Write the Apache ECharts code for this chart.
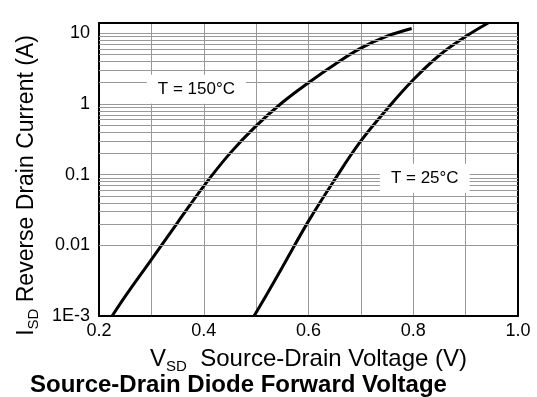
<!DOCTYPE html>
<html>
<head>
<meta charset="utf-8">
<script src="https://cdn.jsdelivr.net/npm/echarts@6/dist/echarts.min.js"></script>
<style>
  html, body { margin: 0; padding: 0; background: #fff; }
  #chart { width: 537px; height: 397px; }
</style>
</head>
<body>
<div id="chart"></div>
<script>
// 150°C curve
var volt150 = [0.225, 0.25, 0.3, 0.35, 0.4, 0.45, 0.5, 0.55, 0.6, 0.65, 0.7, 0.75, 0.797];
var curr150 = [0.001, 0.0019, 0.0063, 0.021, 0.069, 0.20, 0.49, 1.05, 2.0, 3.63, 6.17, 9.1, 11.7];
// 25°C curve
var volt25 = [0.496, 0.52, 0.55, 0.6, 0.65, 0.7, 0.75, 0.8, 0.85, 0.9, 0.943];
var curr25 = [0.001, 0.002, 0.0049, 0.022, 0.085, 0.30, 0.85, 2.2, 4.9, 9.0, 14];

var xTickLabels = ['0.2', '', '0.4', '', '0.6', '', '0.8', '', '1.0'];
var yTickLabels = ['1E-3', '0.01', '0.1', '1', '10'];

var labels = [
    {text: 'T = 150°C', coord: [0.386, 1.62]},
    {text: 'T = 25°C', coord: [0.822, 0.089]}
];

var font = 'Liberation Sans, Arial, sans-serif';
var gridColor = '#999';

// minor log grid lines 2..9 per decade
var minorLines = [];
for (var d = -3; d <= 1; d++) {
    for (var m = 2; m <= 9; m++) {
        var v = m * Math.pow(10, d);
        if (v < 14) {
            minorLines.push({yAxis: v});
        }
    }
}

function pairs(xs, ys) {
    return xs.map(function (x, i) {
        return [x, ys[i]];
    });
}

var chart = echarts.init(document.getElementById('chart'));
chart.setOption({
    animation: false,
    textStyle: {fontFamily: font},
    title: {
        text: 'Source-Drain Diode Forward Voltage',
        left: 30,
        top: 373,
        padding: 0,
        textStyle: {fontFamily: font, fontSize: 24, fontWeight: 'bold', color: '#000'}
    },
    grid: {left: 99, right: 19, top: 23, bottom: 81, containLabel: false},
    xAxis: [{
        type: 'value',
        min: 0.2,
        max: 1.0,
        interval: 0.1,
        name: '{m|V}{s|SD}{m|  Source-Drain Voltage (V)}',
        nameLocation: 'middle',
        nameGap: 20,
        nameTextStyle: {
            rich: {
                m: {fontFamily: font, fontSize: 24, color: '#000', lineHeight: 26},
                s: {fontFamily: font, fontSize: 15, color: '#000', padding: [14, 0, 0, 0], lineHeight: 16}
            }
        },
        axisLine: {lineStyle: {color: '#000', width: 2}},
        axisTick: {show: false},
        axisLabel: {
            fontFamily: font, fontSize: 18, color: '#000', margin: 6,
            formatter: function (val) {
                var i = Math.round((val - 0.2) * 10);
                return xTickLabels[i] || '';
            }
        },
        splitLine: {show: true, lineStyle: {color: gridColor, width: 1}}
    }, {
        type: 'value',
        position: 'top',
        axisLine: {show: true, onZero: false, lineStyle: {color: '#000', width: 2}},
        axisTick: {show: false},
        axisLabel: {show: false},
        splitLine: {show: false}
    }],
    yAxis: [{
        type: 'log',
        logBase: 10,
        min: 0.001,
        max: 14,
        name: '{m|I}{s|SD}{m| Reverse Drain Current (A)}',
        nameLocation: 'middle',
        nameRotate: 90,
        nameGap: 58,
        nameTextStyle: {
            padding: [0, 32, 0, 0],
            rich: {
                m: {fontFamily: font, fontSize: 23, color: '#000', lineHeight: 24},
                s: {fontFamily: font, fontSize: 15, color: '#000', padding: [14, 0, 0, 0], lineHeight: 16}
            }
        },
        axisLine: {show: true, lineStyle: {color: '#000', width: 2}},
        axisTick: {show: false},
        axisLabel: {
            fontFamily: font, fontSize: 18, color: '#000', margin: 9,
            formatter: function (val) {
                var e = Math.log(val) / Math.LN10;
                var r = Math.round(e);
                if (Math.abs(e - r) > 1e-6) {
                    return '';
                }
                return yTickLabels[r + 3] || '';
            }
        },
        splitLine: {show: true, lineStyle: {color: gridColor, width: 1}}
    }, {
        type: 'value',
        position: 'right',
        axisLine: {show: true, onZero: false, lineStyle: {color: '#000', width: 2}},
        axisTick: {show: false},
        axisLabel: {show: false},
        splitLine: {show: false}
    }],
    series: [{
        type: 'line',
        data: [],
        z: 1,
        silent: true,
        markLine: {
            silent: true,
            symbol: 'none',
            animation: false,
            label: {show: false},
            lineStyle: {color: gridColor, width: 1, type: 'solid'},
            emphasis: {disabled: true},
            data: minorLines
        }
    }, {
        type: 'line',
        data: [],
        z: 2,
        silent: true,
        markPoint: {
            symbol: 'rect',
            symbolSize: 0,
            silent: true,
            label: {
                show: true,
                position: 'inside',
                fontFamily: font,
                fontSize: 17,
                color: '#000',
                backgroundColor: '#fff',
                padding: [6, 11, 6, 11],
                formatter: function (p) {
                    return p.name;
                }
            },
            data: labels.map(function (l) {
                return {name: l.text, coord: l.coord};
            })
        }
    }, {
        name: '150',
        type: 'line',
        smooth: 0.4,
        showSymbol: false,
        z: 3,
        lineStyle: {color: '#000', width: 3},
        data: pairs(volt150, curr150)
    }, {
        name: '25',
        type: 'line',
        smooth: 0.4,
        showSymbol: false,
        z: 3,
        lineStyle: {color: '#000', width: 3},
        data: pairs(volt25, curr25)
    }]
});
</script>
</body>
</html>
